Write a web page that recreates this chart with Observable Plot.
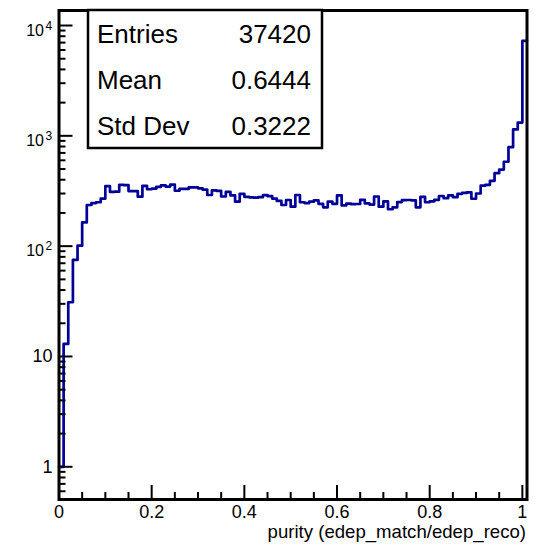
<!DOCTYPE html>
<html>
<head>
<meta charset="utf-8">
<script src="https://cdn.jsdelivr.net/npm/d3@7"></script>
<script src="https://cdn.jsdelivr.net/npm/@observablehq/plot@0.6"></script>
<style>
  html, body { margin: 0; padding: 0; background: #fff; }
  #chart svg { display: block; }
</style>
</head>
<body>
<div id="chart"></div>
<script>
// Histogram of match purity: 101 bins of width 0.01 starting at 0
const binStart = 0;
const binWidth = 0.01;
const counts = [
  1, 13, 31, 75, 101, 164, 236, 246, 250, 270,
  350, 310, 312, 360, 357, 316, 315, 281, 352, 328,
  332, 345, 356, 347, 361, 318, 331, 331, 341, 341,
  334, 325, 291, 320, 317, 282, 310, 288, 253, 298,
  280, 277, 275, 278, 290, 284, 270, 257, 236, 262,
  228, 291, 250, 246, 253, 260, 242, 225, 253, 242,
  288, 234, 243, 240, 241, 263, 244, 238, 282, 228,
  255, 216, 225, 251, 261, 262, 260, 225, 280, 250,
  255, 263, 285, 272, 288, 278, 298, 304, 307, 269,
  300, 353, 360, 391, 459, 495, 582, 790, 1143, 1320,
  7250
];

// Axis ticks and labels
const xTicks = [0, 0.2, 0.4, 0.6, 0.8, 1];
const xTickLabels = ["0", "0.2", "0.4", "0.6", "0.8", "1"];
const yPlainTicks = [1, 10];
const yPlainLabels = ["1", "10"];
const yPowerTicks = [100, 1000, 10000];
const yPowerBase = ["10", "10", "10"];
const yPowerExp = ["2", "3", "4"];
const xTitle = "purity (edep_match/edep_reco)";

// Statistics box
const statNames = ["Entries", "Mean", "Std Dev"];
const statValues = ["37420", "0.6444", "0.3222"];

const W = 541, H = 545;
const mLeft = 58.5, mRight = 14.5, mTop = 10, mBottom = 46;
const frameW = W - mLeft - mRight, frameH = H - mTop - mBottom;
const majorLen = 14, minorLen = 7;
const font = "'Liberation Sans', Arial, Helvetica, sans-serif";

// Step outline points: left edge of each bin, plus the closing right edge
const steps = counts.map((c, i) => ({x: binStart + i * binWidth, y: c}));
steps.push({x: binStart + counts.length * binWidth, y: counts[counts.length - 1]});

// Minor ticks: quarters between x majors, 2..9 within each y decade
const xMinor = d3.range(0, 20).map(i => +(i * 0.05).toFixed(2)).filter(v => !xTicks.includes(v));
const yMinor = [];
for (const dec of [0.1, 1, 10, 100, 1000]) {
  for (let k = 2; k <= 9; k++) yMinor.push(k * dec);
}
const yTickAll = yPlainTicks.concat(yPowerTicks);
const yDomain = [0.5053, 13680];
const yMinorIn = yMinor.filter(v => v >= yDomain[0] && v <= yDomain[1]);

const svg = Plot.plot({
  width: W,
  height: H,
  marginLeft: mLeft,
  marginRight: mRight,
  marginTop: mTop,
  marginBottom: mBottom,
  style: {fontFamily: font, background: "white", color: "black"},
  x: {domain: [0, 1.01], axis: null},
  y: {type: "log", domain: yDomain, axis: null},
  marks: [
    // histogram outline
    Plot.line(steps, {x: "x", y: "y", curve: "step-after", stroke: "#000099", strokeWidth: 2.7}),
    // inward ticks on the bottom axis
    Plot.tickX(xTicks, {x: d => d, insetTop: frameH - majorLen, stroke: "black", strokeWidth: 2}),
    Plot.tickX(xMinor, {x: d => d, insetTop: frameH - minorLen, stroke: "black", strokeWidth: 2}),
    // inward ticks on the left axis
    Plot.tickY(yTickAll, {y: d => d, insetRight: frameW - majorLen, stroke: "black", strokeWidth: 2}),
    Plot.tickY(yMinorIn, {y: d => d, insetRight: frameW - minorLen, stroke: "black", strokeWidth: 2}),
    Plot.frame({stroke: "black", strokeWidth: 3}),
    // x tick labels
    Plot.text(xTicks, {x: d => d, text: (d, i) => xTickLabels[i], frameAnchor: "bottom",
      lineAnchor: "top", dy: 6, fontSize: 18, fill: "black"}),
    // y tick labels: plain numbers
    Plot.text(yPlainTicks, {y: d => d, text: (d, i) => yPlainLabels[i], frameAnchor: "left",
      textAnchor: "end", lineAnchor: "middle", dx: -6.5, fontSize: 18, fill: "black"}),
    // y tick labels: powers of ten
    Plot.text(yPowerTicks, {y: d => d, text: (d, i) => yPowerBase[i], frameAnchor: "left",
      textAnchor: "end", lineAnchor: "bottom", dx: -15, dy: 10, fontSize: 16, fill: "black"}),
    Plot.text(yPowerTicks, {y: d => d, text: (d, i) => yPowerExp[i], frameAnchor: "left",
      textAnchor: "start", lineAnchor: "bottom", dx: -13.5, dy: 4, fontSize: 12, fill: "black"}),
    // axis title
    Plot.text([xTitle], {text: d => d, frameAnchor: "bottom-right", textAnchor: "end",
      lineAnchor: "bottom", dx: -1, dy: 38, fontSize: 18.6, fill: "black"})
  ]
});

// Statistics box in the upper left of the frame
const box = {x: 88, y: mTop, w: 234, h: 138};
const g = d3.select(svg).append("g")
  .attr("font-family", font).attr("font-size", 26).attr("fill", "black").attr("text-anchor", "start");
g.append("rect")
  .attr("x", box.x).attr("y", box.y).attr("width", box.w).attr("height", box.h)
  .attr("fill", "white").attr("stroke", "black").attr("stroke-width", 2.5);
const rowH = box.h / statNames.length;
statNames.forEach((name, i) => {
  const base = box.y + rowH * i + rowH / 2 + 9.5;
  g.append("text").attr("x", box.x + 9).attr("y", base).attr("text-anchor", "start").text(name);
  g.append("text").attr("x", box.x + 223).attr("y", base).attr("text-anchor", "end").text(statValues[i]);
});

document.getElementById("chart").appendChild(svg);
</script>
</body>
</html>
